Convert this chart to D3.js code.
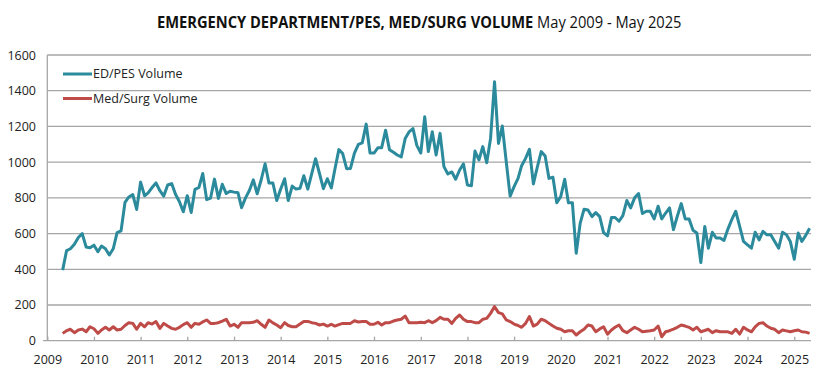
<!DOCTYPE html>
<html>
<head>
<meta charset="utf-8">
<script src="https://cdn.jsdelivr.net/npm/d3@7"></script>
<style>
    body { margin: 0; background: #fff; }
    svg { display: block; font-family: "Open Sans", "Liberation Sans", sans-serif; }
</style>
</head>
<body>
<div id="volumeChart"></div>
<script>
// Monthly volumes, May 2009 .. May 2025 (one row per 12 months)
const edPesVolume = [
    395, 505, 515, 540, 578, 600, 525, 520, 535, 498, 530, 515,
    480, 515, 605, 615, 775, 805, 818, 735, 888, 812, 828, 858,
    884, 840, 810, 872, 880, 820, 778, 722, 812, 718, 847, 858,
    936, 790, 798, 905, 797, 876, 824, 837, 832, 828, 745, 800,
    841, 901, 823, 900, 991, 883, 883, 785, 850, 907, 785, 866,
    849, 853, 924, 849, 935, 1019, 935, 851, 907, 856, 960, 1070,
    1048, 963, 965, 1051, 1100, 1108, 1213, 1051, 1051, 1081, 1081, 1179,
    1070, 1055, 1040, 1029, 1132, 1169, 1188, 1094, 1051, 1254, 1059, 1170,
    1040, 1161, 975, 934, 945, 904, 956, 990, 872, 868, 1062, 1012,
    1087, 997, 1133, 1450, 1105, 1202, 1000, 810, 863, 909, 980, 1021,
    1072, 878, 970, 1059, 1034, 909, 915, 773, 807, 904, 773, 773,
    490, 657, 736, 732, 695, 717, 695, 605, 587, 690, 690, 669,
    700, 785, 744, 800, 824, 712, 725, 725, 682, 753, 682, 715,
    744, 622, 697, 768, 682, 682, 618, 603, 438, 640, 518, 607,
    575, 575, 561, 625, 680, 725, 640, 556, 537, 518, 607, 565,
    612, 593, 593, 556, 518, 607, 593, 556, 456, 603, 556, 590,
    630
];

const medSurgVolume = [
    41, 56, 64, 45, 60, 65, 50, 78, 67, 41, 60, 75,
    60, 78, 60, 64, 85, 101, 97, 64, 97, 78, 101, 93,
    107, 69, 97, 82, 69, 64, 75, 90, 101, 75, 97, 92,
    105, 116, 97, 97, 101, 110, 120, 82, 92, 75, 101, 101,
    101, 103, 112, 92, 75, 116, 100, 88, 73, 101, 85, 78,
    78, 93, 108, 108, 101, 97, 88, 93, 82, 92, 82, 90,
    97, 97, 97, 112, 105, 107, 107, 92, 92, 103, 88, 101,
    101, 110, 116, 120, 138, 101, 101, 101, 103, 101, 112, 101,
    112, 131, 120, 120, 97, 125, 144, 120, 107, 107, 101, 101,
    120, 125, 153, 191, 157, 150, 116, 107, 93, 85, 75, 97,
    135, 82, 93, 120, 112, 97, 82, 70, 64, 50, 56, 56,
    32, 50, 64, 88, 82, 50, 66, 78, 37, 60, 75, 88,
    56, 45, 60, 75, 64, 50, 53, 56, 60, 82, 22, 50,
    56, 65, 75, 88, 82, 75, 60, 75, 50, 57, 64, 45,
    56, 50, 50, 50, 41, 64, 37, 75, 60, 50, 78, 97,
    101, 82, 70, 64, 45, 60, 55, 50, 56, 60, 50, 48,
    41
];

const seriesNames = ["ED/PES Volume", "Med/Surg Volume"];
const yearTicks = [2009, 2010, 2011, 2012, 2013, 2014, 2015, 2016, 2017,
                   2018, 2019, 2020, 2021, 2022, 2023, 2024, 2025];
const yTicks = [0, 200, 400, 600, 800, 1000, 1200, 1400, 1600];

const width = 831, height = 368;
const colors = ["#2b8a9b", "#be4b48"];

// Month dates for each point, first point is May 2009
const months = edPesVolume.map((d, i) => new Date(2009, 4 + i, 1));

const svg = d3.select("#volumeChart")
    .append("svg")
    .attr("width", width)
    .attr("height", height);

// Scales
const x = d3.scaleTime()
    .domain([new Date(2009, 0, 1), new Date(2025, 4, 1)])
    .range([47.3, 809.6]);
const y = d3.scaleLinear().domain([0, 1600]).range([340.7, 55]);
const plotRight = 811;

// Horizontal gridlines
svg.append("g")
    .selectAll("line")
    .data(yTicks.filter(d => d > 0))
    .enter()
    .append("line")
    .attr("x1", x.range()[0])
    .attr("x2", plotRight)
    .attr("y1", d => y(d))
    .attr("y2", d => y(d))
    .attr("stroke", "#a6a6a6")
    .attr("stroke-width", 1.3);

// Y axis labels
svg.append("g")
    .selectAll("text")
    .data(yTicks)
    .enter()
    .append("text")
    .attr("x", 36)
    .attr("y", d => y(d))
    .attr("dy", "0.36em")
    .attr("text-anchor", "end")
    .style("font-size", "12.5px")
    .style("fill", "#222")
    .text(d => d);

// Y axis line
svg.append("line")
    .attr("x1", x.range()[0]).attr("x2", x.range()[0])
    .attr("y1", y(1600)).attr("y2", y(0))
    .attr("stroke", "#a6a6a6")
    .attr("stroke-width", 1.3);

// X axis with year ticks pointing up into the plot
const xAxis = svg.append("g")
    .attr("transform", `translate(0,${y(0)})`)
    .call(d3.axisBottom(x)
        .tickValues(yearTicks.map(yr => new Date(yr, 0, 1)))
        .tickFormat(d3.timeFormat("%Y"))
        .tickSizeInner(-4)
        .tickSizeOuter(0)
        .tickPadding(14));
xAxis.select(".domain")
    .attr("d", `M43,0H${plotRight}`)
    .attr("stroke", "#a6a6a6")
    .attr("stroke-width", 1.3);
xAxis.selectAll(".tick line").attr("stroke", "#a6a6a6").attr("stroke-width", 1.3);
xAxis.selectAll(".tick text")
    .style("font-size", "12.5px")
    .style("font-family", "'Open Sans', sans-serif")
    .style("fill", "#222");

// Lines
const line = d3.line()
    .x((d, i) => x(months[i]))
    .y(d => y(d));

[edPesVolume, medSurgVolume].forEach((series, k) => {
    svg.append("path")
        .datum(series)
        .attr("fill", "none")
        .attr("stroke", colors[k])
        .attr("stroke-width", 3)
        .attr("stroke-linejoin", "round")
        .attr("d", line);
});

// Legend
const legend = svg.append("g")
    .selectAll("g")
    .data(seriesNames)
    .enter()
    .append("g")
    .attr("transform", (d, i) => `translate(63,${74 + i * 24.5})`);
legend.append("line")
    .attr("x1", 0).attr("x2", 29)
    .attr("stroke", (d, i) => colors[i])
    .attr("stroke-width", 3);
legend.append("text")
    .attr("x", 30)
    .attr("dy", "0.35em")
    .style("font-size", "12.5px")
    .style("fill", "#222")
    .text(d => d);

// Title: bold part + date range, squeezed horizontally to the reference width
const title = svg.append("text")
    .style("font-size", "15.5px")
    .style("fill", "#111");
title.append("tspan")
    .style("font-weight", "bold")
    .text("EMERGENCY DEPARTMENT/PES, MED/SURG VOLUME");
title.append("tspan")
    .attr("dx", 4)
    .text("May 2009 - May 2025");
const titleLen = title.node().getComputedTextLength() + 4;
title.attr("transform", `translate(157,28) scale(${525 / titleLen},1)`);
</script>
</body>
</html>
